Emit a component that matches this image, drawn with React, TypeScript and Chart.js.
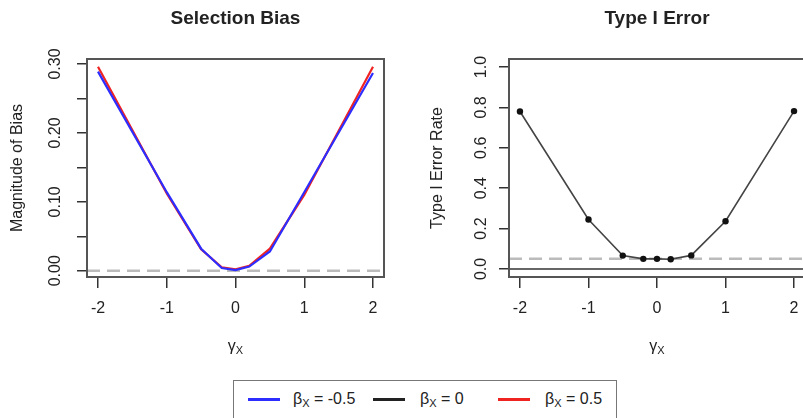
import React, { useEffect, useRef } from "react";
import { Chart, registerables } from "chart.js";
Chart.register(...registerables);

// ---- data ----
const gammaX = [-2, -1, -0.5, -0.2, 0, 0.2, 0.5, 1, 2];
const biasBetaNeg = [0.289, 0.114, 0.032, 0.004, 0.001, 0.006, 0.028, 0.114, 0.287];
const biasBetaPos = [0.296, 0.112, 0.031, 0.005, 0.002, 0.007, 0.032, 0.11, 0.296];
const typeIErrorBeta0 = [0.78, 0.245, 0.066, 0.05, 0.05, 0.048, 0.067, 0.236, 0.782];
const xTicks = [-2, -1, 0, 1, 2];
const biasTicks = [0, 0.05, 0.1, 0.15, 0.2, 0.25, 0.3];
const biasTickLabels = ["0.00", "", "0.10", "", "0.20", "", "0.30"];
const errTicks = [0, 0.2, 0.4, 0.6, 0.8, 1.0];
const errTickLabels = ["0.0", "0.2", "0.4", "0.6", "0.8", "1.0"];
const biasReference = 0;
const alphaLevel = 0.05;
const errBaseline = 0;
const legendBetas = ["-0.5", "0", "0.5"];
const titles = ["Selection Bias", "Type I Error"];
const yTitles = ["Magnitude of Bias", "Type I Error Rate"];

const X_MIN = -2.16;
const X_MAX = 2.16;
const FONT = '"Liberation Sans", Arial, Helvetica, sans-serif';
const TEXT = "#222";
const BLUE = "rgb(45,45,255)";
const RED = "rgb(240,35,35)";
const BLACK = "#222";

function decor(o: {
  title: string;
  yTitle: string;
  yTickValues: number[];
  yTickLabels: string[];
  yLabelX: number;
  yTitleX: number;
}) {
  return {
    id: "decor",
    afterDraw(chart: any) {
      const { ctx, chartArea: a, scales } = chart;
      const ys = scales.y;
      const cx = (a.left + a.right) / 2;
      ctx.save();
      ctx.strokeStyle = "#555";
      ctx.lineWidth = 2;
      ctx.strokeRect(a.left, a.top, a.right - a.left, a.bottom - a.top);
      ctx.fillStyle = TEXT;
      ctx.textAlign = "center";
      ctx.textBaseline = "middle";
      ctx.font = "bold 19px " + FONT;
      ctx.fillText(o.title, cx, 19);
      ctx.font = "16px " + FONT;
      o.yTickValues.forEach((v, i) => {
        const lab = o.yTickLabels[i];
        if (!lab) return;
        const y = ys.getPixelForValue(v);
        ctx.save();
        ctx.translate(o.yLabelX, y);
        ctx.rotate(-Math.PI / 2);
        ctx.fillText(lab, 0, 0);
        ctx.restore();
      });
      ctx.save();
      ctx.translate(o.yTitleX, (a.top + a.bottom) / 2);
      ctx.rotate(-Math.PI / 2);
      ctx.fillText(o.yTitle, 0, 0);
      ctx.restore();
      // x title: gamma with subscript X
      ctx.textAlign = "left";
      ctx.textBaseline = "alphabetic";
      ctx.font = "16px " + FONT;
      const w1 = ctx.measureText("\u03b3").width;
      ctx.font = "11px " + FONT;
      const w2 = ctx.measureText("X").width;
      const sx = cx - (w1 + w2) / 2;
      ctx.font = "16px " + FONT;
      ctx.fillText("\u03b3", sx, 351);
      ctx.font = "11px " + FONT;
      ctx.fillText("X", sx + w1, 354);
      ctx.restore();
    },
  };
}

function xScale() {
  return {
    type: "linear",
    min: X_MIN,
    max: X_MAX,
    afterBuildTicks: (s: any) => {
      s.ticks = xTicks.map((v) => ({ value: v }));
    },
    afterFit: (s: any) => {
      s.height = 93;
    },
    grid: { drawOnChartArea: false, drawTicks: true, tickLength: 11, color: "#333", lineWidth: 1.5 },
    border: { display: false },
    ticks: {
      autoSkip: false,
      maxRotation: 0,
      padding: 11,
      color: TEXT,
      font: { family: FONT, size: 16 },
      callback: (v: any) => String(v),
    },
  };
}

function yScale(min: number, max: number, ticks: number[], width: number) {
  return {
    type: "linear",
    min,
    max,
    afterBuildTicks: (s: any) => {
      s.ticks = ticks.map((v) => ({ value: v }));
    },
    afterFit: (s: any) => {
      s.width = width;
    },
    grid: { drawOnChartArea: false, drawTicks: true, tickLength: 10, color: "#333", lineWidth: 1.5 },
    border: { display: false },
    ticks: { display: false },
  };
}

const pts = (vals: number[]) => gammaX.map((x, i) => ({ x, y: vals[i] }));
const hline = (y: number) => [
  { x: X_MIN, y },
  { x: X_MAX, y },
];

export default function App() {
  const leftRef = useRef<HTMLCanvasElement | null>(null);
  const rightRef = useRef<HTMLCanvasElement | null>(null);

  useEffect(() => {
    const left = new Chart(leftRef.current as HTMLCanvasElement, {
      type: "line",
      data: {
        datasets: [
          {
            label: "beta -0.5",
            data: pts(biasBetaNeg),
            borderColor: BLUE,
            borderWidth: 2.2,
            pointRadius: 0,
            fill: false,
          },
          {
            label: "beta 0.5",
            data: pts(biasBetaPos),
            borderColor: RED,
            borderWidth: 2.2,
            pointRadius: 0,
            fill: false,
          },
          {
            label: "ref",
            data: hline(biasReference),
            borderColor: "#bbb",
            borderWidth: 2.5,
            borderDash: [13, 7],
            pointRadius: 0,
            fill: false,
          },
        ],
      },
      options: {
        animation: false,
        responsive: false,
        events: [],
        layout: { padding: { top: 59, right: 17, left: 0, bottom: 0 } },
        plugins: { legend: { display: false }, tooltip: { enabled: false }, title: { display: false } },
        scales: {
          x: xScale() as any,
          y: yScale(-0.0091, 0.3073, biasTicks, 87) as any,
        },
      },
      plugins: [
        decor({
          title: titles[0],
          yTitle: yTitles[0],
          yTickValues: biasTicks,
          yTickLabels: biasTickLabels,
          yLabelX: 56,
          yTitleX: 17.5,
        }),
      ],
    } as any);

    const right = new Chart(rightRef.current as HTMLCanvasElement, {
      type: "line",
      data: {
        datasets: [
          {
            label: "beta 0",
            data: pts(typeIErrorBeta0),
            borderColor: "#444",
            borderWidth: 1.6,
            pointRadius: 3.2,
            pointBackgroundColor: "#111",
            pointBorderWidth: 0,
            fill: false,
          },
          {
            label: "alpha",
            data: hline(alphaLevel),
            borderColor: "#bbb",
            borderWidth: 2.5,
            borderDash: [13, 7],
            pointRadius: 0,
            fill: false,
          },
          {
            label: "zero",
            data: hline(errBaseline),
            borderColor: "#333",
            borderWidth: 1.5,
            pointRadius: 0,
            fill: false,
          },
        ],
      },
      options: {
        animation: false,
        responsive: false,
        events: [],
        layout: { padding: { top: 59, right: 16, left: 0, bottom: 0 } },
        plugins: { legend: { display: false }, tooltip: { enabled: false }, title: { display: false } },
        scales: {
          x: xScale() as any,
          y: yScale(-0.04, 1.04, errTicks, 108) as any,
        },
      },
      plugins: [
        decor({
          title: titles[1],
          yTitle: yTitles[1],
          yTickValues: errTicks,
          yTickLabels: errTickLabels,
          yLabelX: 81,
          yTitleX: 36.5,
        }),
      ],
    } as any);

    return () => {
      left.destroy();
      right.destroy();
    };
  }, []);

  const legendColors = [BLUE, BLACK, RED];
  const lineLefts = [14, 139, 264];
  const textLefts = [59, 186, 311];

  return (
    <div
      style={{
        position: "fixed",
        left: 0,
        top: 0,
        width: 803,
        height: 418,
        overflow: "hidden",
        background: "#fff",
      }}
    >
      <canvas ref={leftRef} width={401} height={370} style={{ position: "absolute", left: 0, top: 0 }} />
      <canvas ref={rightRef} width={420} height={370} style={{ position: "absolute", left: 401, top: 0 }} />
      <div
        style={{
          position: "absolute",
          left: 233,
          top: 380,
          width: 384,
          height: 60,
          border: "1.5px solid #777",
          boxSizing: "border-box",
          fontFamily: FONT,
          fontSize: 16,
          color: TEXT,
        }}
      >
        {legendBetas.map((b, i) => (
          <React.Fragment key={b}>
            <div
              style={{
                position: "absolute",
                left: lineLefts[i],
                top: 17,
                width: 32,
                height: 3,
                background: legendColors[i],
              }}
            />
            <div
              style={{
                position: "absolute",
                left: textLefts[i],
                top: 8,
                height: 20,
                lineHeight: "20px",
                whiteSpace: "nowrap",
              }}
            >
              {"\u03b2"}
              <span style={{ fontSize: 11, position: "relative", top: 3 }}>X</span>
              {" = " + b}
            </div>
          </React.Fragment>
        ))}
      </div>
    </div>
  );
}
